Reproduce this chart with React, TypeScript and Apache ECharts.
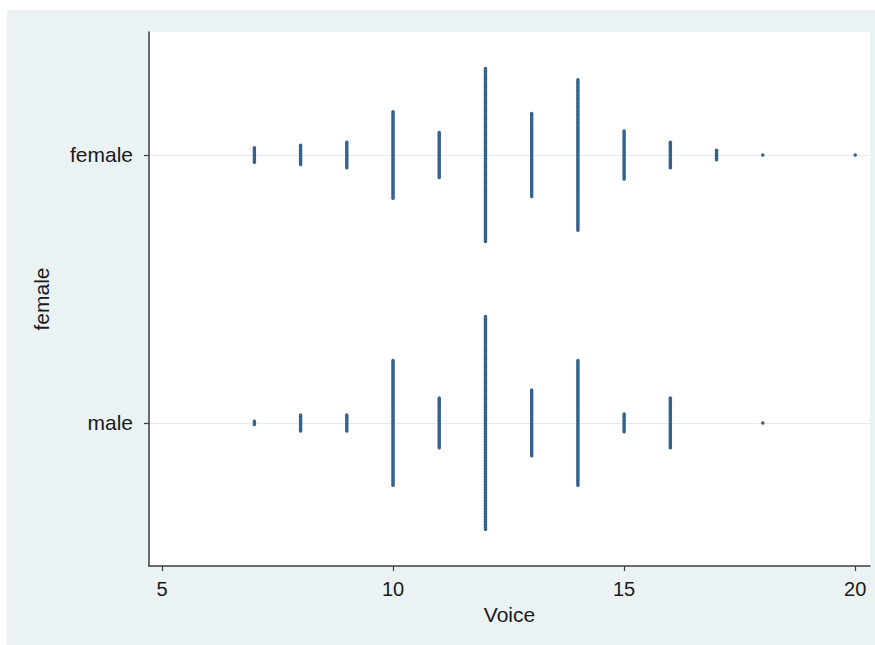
import React, { useEffect, useRef } from "react";
import * as echarts from "echarts";

// Voice scores (x) and number of observations at each score, per group
const voiceValues = [7, 8, 9, 10, 11, 12, 13, 14, 15, 16, 17, 18, 19, 20];
const femaleCounts = [10, 13, 17, 55, 29, 109, 53, 95, 31, 17, 7, 1, 0, 1];
const maleCounts = [3, 11, 11, 79, 32, 134, 42, 79, 12, 32, 0, 1, 0, 0];
const groupLabels = ["male", "female"]; // y position 0, 1
const xTickValues = [5, 10, 15, 20];
const yTickValues = [0, 1];

const DOT_STEP = 0.00597; // vertical spacing between stacked dots (y units)

function stackDots(counts: number[], level: number): number[][] {
  const pts: number[][] = [];
  counts.forEach((n, i) => {
    for (let k = 0; k < n; k++) {
      pts.push([voiceValues[i], level + (k - (n - 1) / 2) * DOT_STEP]);
    }
  });
  return pts;
}

export default function App() {
  const ref = useRef<HTMLDivElement>(null);
  useEffect(() => {
    if (!ref.current) return;
    const chart = echarts.init(ref.current, null, { renderer: "svg" });
    const font = "'Liberation Sans', Arial, sans-serif";
    const axisColor = "#3c3c3c";
    const textColor = "#1a1a1a";
    const dotColor = "#36628e";
    chart.setOption({
      animation: false,
      backgroundColor: "#ffffff",
      graphic: [
        {
          type: "rect",
          left: 7,
          top: 10,
          shape: { width: 868, height: 635 },
          style: { fill: "#eaf2f3" },
          z: -10,
          silent: true,
        },
      ],
      grid: {
        left: 149,
        top: 32,
        right: 5,
        bottom: 79,
        show: true,
        backgroundColor: "#ffffff",
        borderWidth: 0,
        containLabel: false,
      },
      xAxis: {
        type: "value",
        min: 4.72,
        max: 20.32,
        name: "Voice",
        nameLocation: "middle",
        nameGap: 38,
        nameTextStyle: { fontFamily: font, fontSize: 21, color: textColor },
        axisLine: { show: true, onZero: false, lineStyle: { color: axisColor, width: 1.5 } },
        axisTick: { show: true, length: 5, customValues: xTickValues, lineStyle: { color: axisColor, width: 1.2 } },
        axisLabel: {
          customValues: xTickValues,
          fontFamily: font,
          fontSize: 20,
          color: textColor,
          margin: 13,
        },
        splitLine: { show: false },
      },
      yAxis: {
        type: "value",
        min: -0.534,
        max: 1.459,
        name: "female",
        nameLocation: "middle",
        nameGap: 97,
        nameRotate: 90,
        nameTextStyle: { fontFamily: font, fontSize: 21, color: textColor },
        axisLine: { show: true, onZero: false, lineStyle: { color: axisColor, width: 1.5 } },
        axisTick: { show: true, length: 5, customValues: yTickValues, lineStyle: { color: axisColor, width: 1.2 } },
        axisLabel: {
          customValues: yTickValues,
          formatter: (v: number) => groupLabels[Math.round(v)] ?? "",
          fontFamily: font,
          fontSize: 21,
          color: textColor,
          margin: 16,
        },
        splitLine: { show: false },
      },
      series: [
        {
          type: "scatter",
          name: "female",
          symbol: "circle",
          symbolSize: 3.5,
          itemStyle: { color: dotColor, opacity: 1 },
          data: stackDots(femaleCounts, 1),
          markLine: {
            silent: true,
            symbol: ["none", "none"],
            label: { show: false },
            lineStyle: { color: "#e3eced", width: 1.2, type: "solid" },
            data: yTickValues.map((v) => ({ yAxis: v })),
            z: 0,
          },
          z: 3,
        },
        {
          type: "scatter",
          name: "male",
          symbol: "circle",
          symbolSize: 3.5,
          itemStyle: { color: dotColor, opacity: 1 },
          data: stackDots(maleCounts, 0),
          z: 3,
        },
      ],
    });
    return () => chart.dispose();
  }, []);
  return (
    <div
      ref={ref}
      style={{ position: "fixed", left: 0, top: 0, width: 875, height: 645 }}
    />
  );
}
